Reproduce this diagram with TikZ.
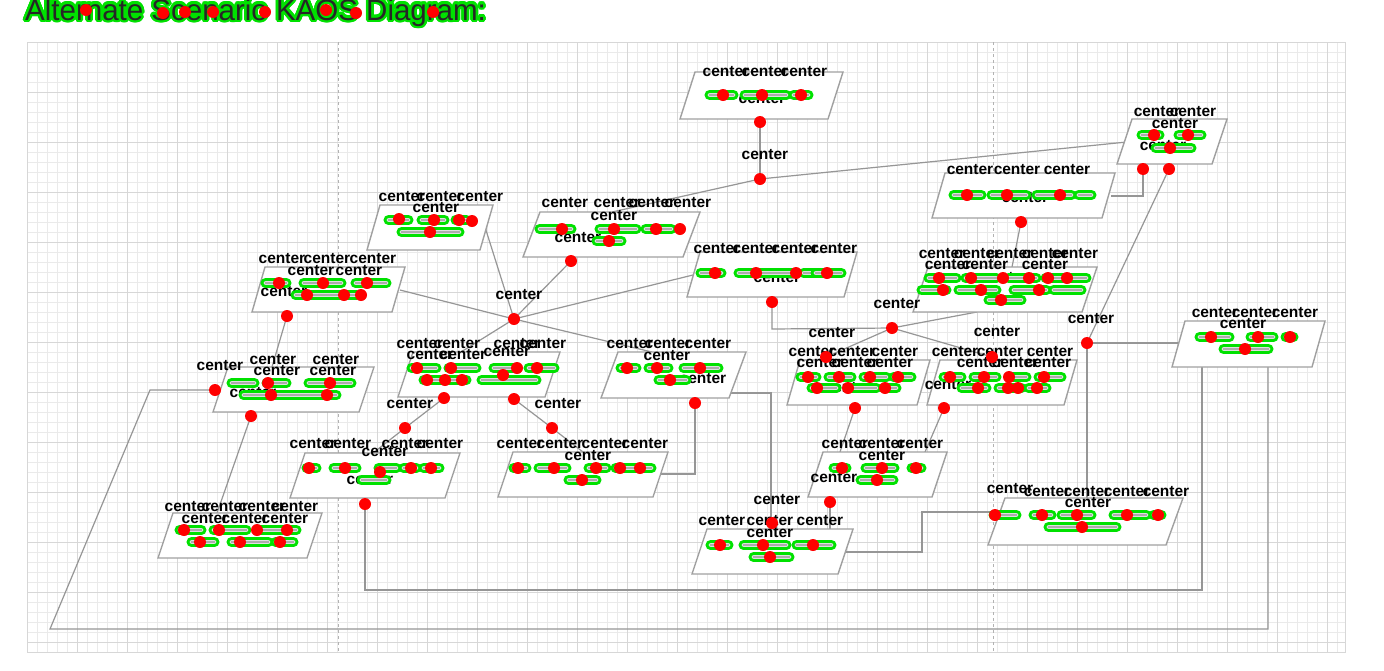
\documentclass[tikz,border=0pt]{standalone}
\usepackage{fontspec}
\setmainfont{Liberation Sans}
\usetikzlibrary{positioning}

\definecolor{halo}{RGB}{0,225,0}
\definecolor{linkgray}{RGB}{150,150,150}
\definecolor{boxgray}{RGB}{160,160,160}
\definecolor{gridminor}{RGB}{234,234,234}
\definecolor{gridmajor}{RGB}{215,215,215}

% one KAOS box: name, top-left x, top y, width, height, skew
\newcommand{\kaosbox}[6]{%
  \draw[boxline] (#2,#3) coordinate (#1-tl) -- ++(#4,0) coordinate (#1-tr)
    -- ++(-#6,#5) coordinate (#1-br) -- ++(-#4,0) coordinate (#1-bl) -- cycle;}

\begin{document}
\begin{tikzpicture}[x=1pt,y=-1pt,
    boxline/.style={draw=boxgray,line width=1.4pt,fill=white},
    link/.style={draw=linkgray,line width=1.2pt},
    lbl/.style={font=\fontsize{15.5}{15.5}\selectfont\bfseries,inner sep=0pt,text=black},
    ttl/.style={font=\fontsize{29.5}{29.5}\selectfont,inner sep=0pt,anchor=base west},
    reddot/.style={circle,fill=red,inner sep=0pt,minimum size=12pt},
    blob/.style={draw=halo,line width=2.8pt,fill=gray!25,rounded corners=3.5pt}]
  \useasboundingbox (0,0) rectangle (1384,670);
  \fill[white] (0,0) rectangle (1384,670);

  % grid background
  \foreach \gx in {27,37,...,1345} \draw[gridminor,line width=0.6pt] (\gx,42) -- (\gx,652);
  \foreach \gy in {42,52,...,652} \draw[gridminor,line width=0.6pt] (27,\gy) -- (1345,\gy);
  \foreach \gx in {27,77,...,1345} \draw[gridmajor,line width=0.6pt] (\gx,42) -- (\gx,652);
  \foreach \gy in {42,92,...,652} \draw[gridmajor,line width=0.6pt] (27,\gy) -- (1345,\gy);
  \draw[gridmajor,line width=0.8pt] (27,42) rectangle (1345,652);
  \draw[gray!60,dashed,line width=0.8pt] (338,42) -- (338,652);
  \draw[gray!60,dashed,line width=0.8pt] (993,42) -- (993,652);

  % title
  \foreach \a in {0,20,...,340}
    \path (25,20) ++(\a:2.6) node[ttl,text=halo] {Alternate Scenario KAOS Diagram:};
  \node[ttl,text=black!85] (title) at (25,20) {Alternate Scenario KAOS Diagram:};

  % junctions and connector ends
  \coordinate (Aout) at (760,122);  \coordinate (J0) at (760,179);
  \coordinate (Bin) at (1127,142);  \coordinate (Etop) at (612,212);
  \coordinate (Bout1) at (1143,169); \coordinate (Bout2) at (1169,169);
  \coordinate (Cright) at (1111,196); \coordinate (Cout) at (1021,222);
  \coordinate (Stop) at (1012,267); \coordinate (Sbot) at (977,312);
  \coordinate (Dright) at (485,227); \coordinate (Eout) at (571,261);
  \coordinate (Fright) at (400,290); \coordinate (Fout) at (287,316);
  \coordinate (J1) at (514,319);
  \coordinate (Kleft) at (693,275); \coordinate (Kout) at (772,302);
  \coordinate (Ltop) at (652,352); \coordinate (Lright) at (731,393);
  \coordinate (Lout) at (695,403); \coordinate (Htop) at (461,352);
  \coordinate (Gtop) at (272,367); \coordinate (Gleft) at (215,390);
  \coordinate (Gout) at (251,416); \coordinate (Mtop) at (217,513);
  \coordinate (Hout1) at (444,398); \coordinate (Hout2) at (514,399);
  \coordinate (Hm1) at (405,428); \coordinate (Hm2) at (552,428);
  \coordinate (Ntop) at (373,453); \coordinate (Otop) at (583,452);
  \coordinate (Oright) at (660,474); \coordinate (Nout) at (365,504);
  \coordinate (J2) at (892,328); \coordinate (Ttop) at (826,357);
  \coordinate (Utop) at (992,357); \coordinate (Tout) at (855,408);
  \coordinate (Uout) at (944,408); \coordinate (Vin1) at (840,452);
  \coordinate (Vin2) at (925,452); \coordinate (Vout) at (830,502);
  \coordinate (Qtop) at (830,529); \coordinate (Qin) at (771,529);
  \coordinate (Qright) at (842,552); \coordinate (Ileft) at (1000,512);
  \coordinate (J3) at (1087,343); \coordinate (Rleft) at (1179,343);
  \coordinate (Itop) at (1087,498);
  \coordinate (Rbot1) at (1202,367); \coordinate (Rbot2) at (1268,367);

  % connectors
  \draw[link] (Aout) -- (J0);
  \draw[link] (J0) -- (Bin);
  \draw[link] (J0) -- (Etop);
  \draw[link] (Dright) -- (J1);
  \draw[link] (Eout) -- (J1);
  \draw[link] (Fright) -- (J1);
  \draw[link] (J1) -- (Kleft);
  \draw[link] (J1) -- (Ltop);
  \draw[link] (J1) -- (Htop);
  \draw[link] (Fout) -- (Gtop);
  \draw[link] (Gout) -- (Mtop);
  \draw[link] (Gleft) -- (150,390) -- (50,629) -- (1268,629) -- (Rbot2);
  \draw[link] (Hout1) -- (Hm1) -- (Ntop);
  \draw[link] (Hout2) -- (Hm2) -- (Otop);
  \draw[link] (Lout) -- (695,474) -- (Oright);
  \draw[link] (Lright) -- (771,393) -- (Qin);
  \draw[link] (Kout) -- (772,329) -- (J2);
  \draw[link] (J2) -- (Sbot);
  \draw[link] (J2) -- (Ttop);
  \draw[link] (J2) -- (Utop);
  \draw[link] (Cout) -- (Stop);
  \draw[link] (Cright) -- (1143,196) -- (Bout1);
  \draw[link] (Bout2) -- (J3);
  \draw[link] (J3) -- (Rleft);
  \draw[link] (J3) -- (Itop);
  \draw[link] (Tout) -- (Vin1);
  \draw[link] (Uout) -- (Vin2);
  \draw[link] (Vout) -- (Qtop);
  \draw[link] (Qright) -- (922,552) -- (922,512) -- (Ileft);
  \draw[link] (Nout) -- (365,590) -- (1202,590) -- (Rbot1);

  % boxes
  \kaosbox{A}{695}{72}{148}{47}{15}
  \kaosbox{B}{1132}{119}{95}{45}{15}
  \kaosbox{C}{945}{173}{170}{45}{13}
  \kaosbox{D}{380}{205}{113}{45}{13}
  \kaosbox{E}{540}{212}{160}{45}{17}
  \kaosbox{F}{265}{267}{140}{45}{13}
  \kaosbox{G}{228}{367}{146}{45}{15}
  \kaosbox{H}{413}{352}{147}{45}{15}
  \kaosbox{L}{618}{352}{128}{46}{17}
  \kaosbox{K}{700}{252}{157}{45}{13}
  \kaosbox{N}{305}{453}{155}{45}{15}
  \kaosbox{M}{173}{513}{149}{45}{15}
  \kaosbox{O}{513}{452}{155}{45}{15}
  \kaosbox{S}{928}{267}{169}{45}{15}
  \kaosbox{T}{800}{360}{130}{45}{13}
  \kaosbox{U}{940}{360}{137}{45}{13}
  \kaosbox{V}{823}{452}{124}{45}{15}
  \kaosbox{Q}{707}{529}{146}{45}{15}
  \kaosbox{I}{1005}{498}{178}{47}{17}
  \kaosbox{R}{1185}{321}{140}{46}{13}

  % labels
  \foreach \x/\y [count=\i] in {726/72,765/72,804/72,762/99,765/155,
      1157/112,1193/112,1175/124,1163/146,
      970/170,1017/170,1067/170,1025/198,
      402/197,440/197,480/197,436/208,
      565/203,617/203,652/203,688/203,614/216,578/238,
      282/259,327/259,373/259,311/271,359/271,284/292,519/295,
      220/366,273/360,336/360,277/371,333/371,253/393,
      420/344,457/344,517/344,543/344,430/355,463/355,507/352,410/404,558/404,
      630/344,668/344,708/344,667/356,703/379,
      717/249,756/249,795/249,834/249,777/278,
      897/304,832/333,997/332,
      942/254,977/254,1010/254,1045/254,1075/254,948/265,985/265,1045/265,1005/278,
      812/352,852/352,895/352,820/363,855/363,890/363,848/388,
      955/352,1000/352,1050/352,980/363,1015/363,1048/363,948/385,
      1091/319,1215/313,1255/313,1295/313,1243/324,
      845/444,882/444,920/444,882/456,834/478,777/500,
      722/521,770/521,820/521,770/533,
      1010/489,1047/492,1087/492,1127/492,1166/492,1088/503,
      188/507,225/507,262/507,295/507,205/519,245/519,285/519,
      313/444,348/444,405/444,440/444,385/452,370/480,
      520/444,560/444,605/444,645/444,588/456}
    \node[lbl] (lbl\i) at (\x,\y) {center};

  % highlighted text runs
  \foreach \xa/\xb/\y in {706/737/95,741/790/95,790/812/95,
      1138/1163/135,1175/1205/135,1152/1195/148,
      950/985/195,988/1030/195,1033/1075/195,1075/1095/195,
      385/412/220,418/448/220,452/470/220,398/463/232,
      536/575/229,596/640/229,642/675/229,593/625/241,
      262/290/283,300/345/283,352/390/283,292/360/295,
      228/258/383,263/290/383,305/355/383,240/340/395,
      408/440/368,445/480/368,490/520/368,525/558/368,420/470/380,478/540/380,
      617/640/368,645/672/368,680/722/368,655/690/380,
      697/725/273,735/800/273,800/822/273,812/845/273,
      925/960/278,962/1000/278,1005/1040/278,1042/1090/278,
      918/950/290,955/1000/290,1010/1050/290,1050/1085/290,985/1025/300,
      797/820/377,825/855/377,860/890/377,890/915/377,808/840/388,845/880/388,880/900/388,
      940/965/377,970/1000/377,1005/1030/377,1035/1065/377,958/990/388,995/1025/388,1025/1050/388,
      1196/1233/337,1247/1277/337,1282/1297/337,1220/1272/349,
      830/850/468,862/898/468,908/925/468,857/897/480,
      707/732/545,740/790/545,793/835/545,750/793/557,
      990/1020/515,1030/1055/515,1058/1095/515,1110/1150/515,1150/1165/515,1045/1120/527,
      176/205/530,210/250/530,255/300/530,188/218/542,228/272/542,272/297/542,
      303/320/468,330/360/468,375/400/468,400/420/468,420/443/468,358/390/480,
      510/530/468,535/570/468,585/610/468,612/655/468,565/600/480}
    {\draw[blob] (\xa,\y-3.5) rectangle (\xb,\y+3.5);
     \draw[gray!65,line width=1.6pt] (\xa+3,\y) -- (\xb-3,\y);}

  % red markers
  \foreach \x/\y [count=\i] in {86/10,163/13,185/12,213/12,265/12,326/10,356/13,433/12,
      723/95,762/95,801/95,760/122,760/179,
      1154/135,1188/135,1170/148,1143/169,1169/169,
      967/195,1007/195,1060/195,1021/222,
      399/219,434/220,459/220,472/221,430/232,
      562/229,614/229,656/229,680/229,609/241,571/261,
      279/283,323/283,367/283,307/295,344/295,361/295,287/316,514/319,
      215/390,268/383,330/383,271/395,327/395,251/416,
      417/368,451/368,517/368,537/368,427/380,445/380,462/380,503/375,
      444/398,514/399,405/428,552/428,
      627/368,657/368,700/368,670/380,695/403,
      715/273,756/273,796/273,827/273,772/302,
      892/328,826/357,992/357,
      939/278,971/278,1003/278,1029/278,1048/278,1067/278,943/290,981/290,1039/290,1001/300,
      808/377,839/377,870/377,898/377,817/388,848/388,885/388,855/408,
      950/377,984/377,1009/377,1044/377,978/388,1008/388,1018/388,1037/388,944/408,
      1087/343,1211/337,1258/337,1290/337,1245/349,
      842/468,882/468,916/468,877/480,830/502,
      772/523,720/545,763/545,813/545,770/557,
      995/515,1042/515,1077/515,1127/515,1158/515,1082/527,
      184/530,219/530,257/530,287/530,200/542,240/542,280/542,
      309/468,345/468,380/472,411/468,431/468,365/504,
      518/468,554/468,596/468,620/468,640/468,582/480}
    \node[reddot] (dot\i) at (\x,\y) {};
\end{tikzpicture}
\end{document}
